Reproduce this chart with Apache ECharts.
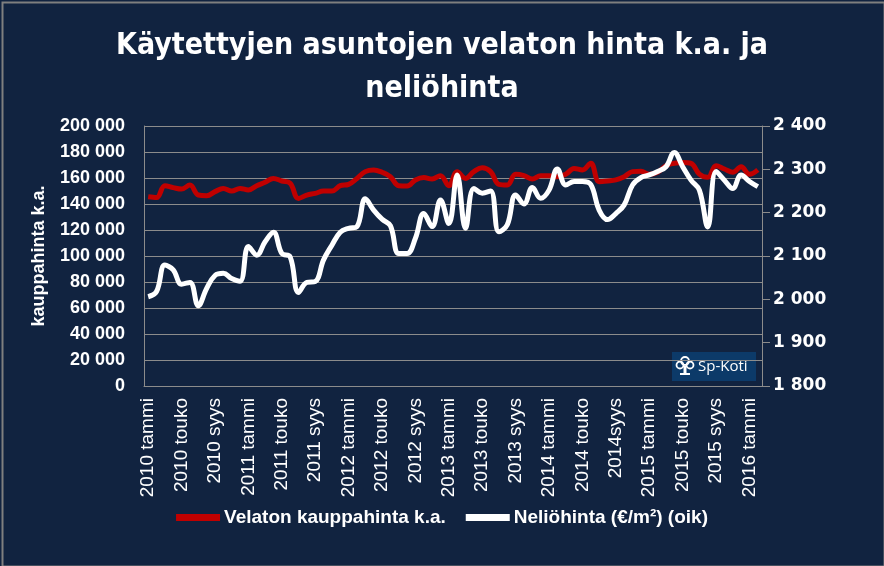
<!DOCTYPE html>
<html>
<head>
<meta charset="utf-8">
<script src="https://cdn.jsdelivr.net/npm/echarts@6/dist/echarts.min.js"></script>
<style>
html,body{margin:0;padding:0;background:#112340;}
#c{width:884px;height:566px;}
</style>
</head>
<body>
<div id="c"></div>
<script>
var categories = [
"2010 tammi","2010 helmi","2010 maalis","2010 huhti","2010 touko","2010 kesä","2010 heinä","2010 elo","2010 syys","2010 loka","2010 marras","2010 joulu",
"2011 tammi","2011 helmi","2011 maalis","2011 huhti","2011 touko","2011 kesä","2011 heinä","2011 elo","2011 syys","2011 loka","2011 marras","2011 joulu",
"2012 tammi","2012 helmi","2012 maalis","2012 huhti","2012 touko","2012 kesä","2012 heinä","2012 elo","2012 syys","2012 loka","2012 marras","2012 joulu",
"2013 tammi","2013 helmi","2013 maalis","2013 huhti","2013 touko","2013 kesä","2013 heinä","2013 elo","2013 syys","2013 loka","2013 marras","2013 joulu",
"2014 tammi","2014 helmi","2014 maalis","2014 huhti","2014 touko","2014 kesä","2014 heinä","2014 elo","2014syys","2014 loka","2014 marras","2014 joulu",
"2015 tammi","2015 helmi","2015 maalis","2015 huhti","2015 touko","2015 kesä","2015 heinä","2015 elo","2015 syys","2015 loka","2015 marras","2015 joulu",
"2016 tammi","2016 helmi"
];
var velatonHinta = [
145600,145000,154100,152600,151500,154600,146900,146400,149500,152000,150000,152000,
150800,154100,156700,159700,157700,155900,144300,146900,148200,150000,150000,154100,
155100,159700,164900,166200,164400,161000,154000,153800,158500,160300,159200,161800,
154100,164900,159700,164900,167900,164900,155100,154600,162800,161800,159200,161800,
161800,161000,162800,167400,166200,171300,157200,157700,158500,161000,164900,165200,
162800,164400,169500,171300,172000,171300,163000,160500,169500,166900,164400,168700,
162800,166200
];
var neliohinta = [
2006,2018,2079,2068,2035,2039,1985,2025,2055,2060,2048,2042,
2122,2102,2133,2155,2106,2098,2016,2039,2041,2091,2125,2155,
2164,2168,2232,2206,2185,2170,2106,2106,2141,2198,2168,2229,
2175,2287,2164,2256,2245,2250,2156,2172,2241,2220,2258,2233,
2252,2301,2264,2272,2272,2265,2206,2184,2198,2218,2264,2281,
2287,2295,2306,2339,2306,2275,2252,2167,2295,2275,2256,2287,
2272,2260
];
var seriesNames = ["Velaton kauppahinta k.a.", "Neliöhinta (€/m²) (oik)"];
var titleText = "Käytettyjen asuntojen velaton hinta k.a. ja\nneliöhinta";
var leftAxisName = "kauppahinta k.a.";

function spaced(v){ return String(v).replace(/\B(?=(\d{3})+(?!\d))/g, ' '); }

var chart = echarts.init(document.getElementById('c'));
var gridColor = '#8c8c8c';
chart.setOption({
  backgroundColor: '#112340',
  animation: false,
  title: {
    text: titleText,
    left: 'center',
    top: 20,
    textStyle: {color:'#ffffff', fontSize: 30, fontWeight:'bold', fontFamily:'"DejaVu Sans Condensed","Liberation Sans Narrow",sans-serif', lineHeight: 43}
  },
  legend: {
    bottom: 34,
    left: 'center',
    itemWidth: 44,
    itemHeight: 7,
    itemGap: 20,
    textStyle: {color:'#ffffff', fontSize:19, fontWeight:'bold', fontFamily:'"Liberation Sans",Arial,sans-serif', padding:[0,0,0,-1]},
    data: [
      {name: seriesNames[0], icon:'rect', itemStyle:{color:'#c00000'}},
      {name: seriesNames[1], icon:'rect', itemStyle:{color:'#ffffff'}}
    ]
  },
  grid: {left:144, right:122, top:126, bottom:180, containLabel:false, outerBoundsMode:'none'},
  xAxis: {
    type:'category',
    data: categories,
    boundaryGap: true,
    axisLine:{show:true, lineStyle:{color:gridColor, width:1}},
    axisTick:{show:false},
    axisLabel:{interval:3, rotate:90, color:'#ffffff', fontSize:19, margin:12, fontFamily:'"Liberation Sans",Arial,sans-serif'},
    splitLine:{show:false}
  },
  yAxis: [
    {
      type:'value', min:0, max:200000, interval:20000, position:'left',
      name: leftAxisName, nameLocation:'middle', nameRotate:90, nameGap:96,
      nameTextStyle:{color:'#ffffff', fontSize:18, fontWeight:'bold', fontFamily:'"Liberation Sans",Arial,sans-serif'},
      axisLine:{show:true, lineStyle:{color:gridColor, width:1}},
      axisTick:{show:false},
      splitLine:{show:true, lineStyle:{color:gridColor, width:1}},
      axisLabel:{color:'#ffffff', fontSize:18, fontWeight:'bold', margin:19, fontFamily:'"Liberation Sans",Arial,sans-serif', formatter: spaced}
    },
    {
      type:'value', min:1800, max:2400, interval:100, position:'right',
      axisLine:{show:true, lineStyle:{color:gridColor, width:1}},
      axisTick:{show:true, length:8, inside:false, lineStyle:{color:gridColor}},
      splitLine:{show:false},
      axisLabel:{color:'#ffffff', fontSize:17, fontWeight:'bold', margin:11, fontFamily:'"DejaVu Sans",sans-serif', formatter: spaced}
    }
  ],
  series: [
    {name: seriesNames[0], type:'line', yAxisIndex:0, data: velatonHinta, smooth:0.4, showSymbol:false, symbol:'none',
     lineStyle:{color:'#c00000', width:5}, itemStyle:{color:'#c00000'}, z:3},
    {name: seriesNames[1], type:'line', yAxisIndex:1, data: neliohinta, smooth:0.4, showSymbol:false, symbol:'none',
     lineStyle:{color:'#ffffff', width:5}, itemStyle:{color:'#ffffff'}, z:4}
  ],
  graphic: [
    {type:'rect', left:0, top:0, shape:{x:1, y:1, width:882, height:564}, style:{fill:'none', stroke:'#7f7f7f', lineWidth:2}, silent:true, z:100},
    {type:'group', left:672, top:352, z:50, children:[
      {type:'rect', shape:{x:0, y:0, width:84, height:29}, style:{fill:'#0c3a69'}},
      {type:'circle', shape:{cx:8, cy:13, r:3.5}, style:{fill:'none', stroke:'#ffffff', lineWidth:1.8}},
      {type:'circle', shape:{cx:13, cy:9, r:4}, style:{fill:'none', stroke:'#ffffff', lineWidth:1.8}},
      {type:'circle', shape:{cx:18, cy:13, r:3.5}, style:{fill:'none', stroke:'#ffffff', lineWidth:1.8}},
      {type:'rect', shape:{x:11.5, y:14, width:3, height:8}, style:{fill:'#ffffff'}},
      {type:'rect', shape:{x:8, y:21, width:10, height:2}, style:{fill:'#ffffff'}},
      {type:'text', style:{x:26, y:15, text:'Sp-Koti', fill:'#ffffff', fontSize:15, fontFamily:'"Open Sans","Liberation Sans",sans-serif', verticalAlign:'middle', textAlign:'left'}}
    ]}
  ]
});
</script>
</body>
</html>
